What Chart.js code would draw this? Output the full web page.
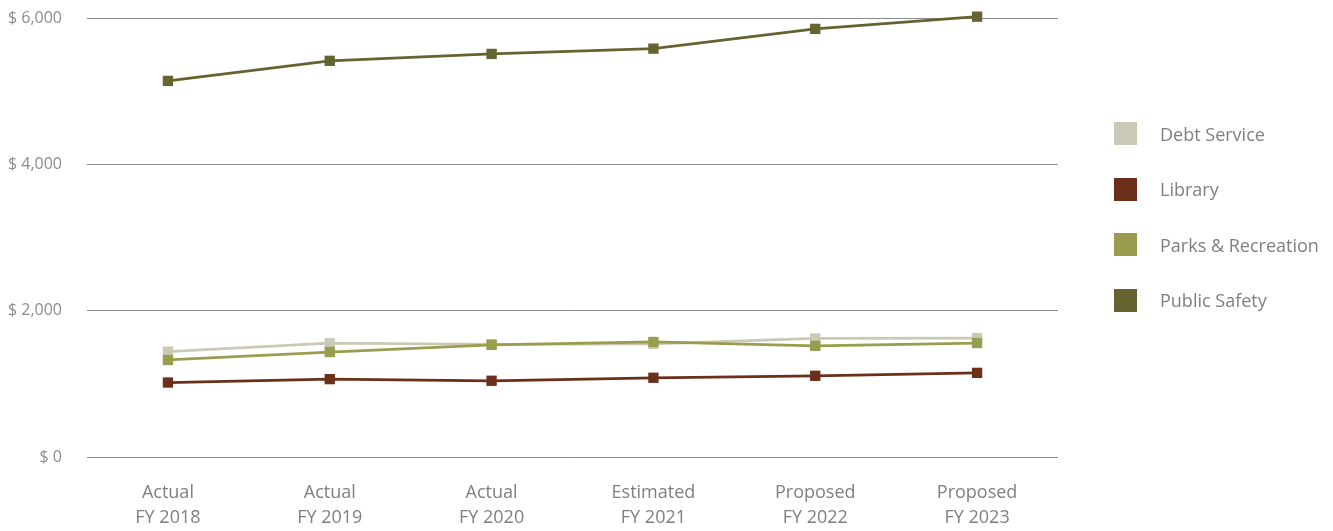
<!DOCTYPE html>
<html>
<head>
<meta charset="utf-8">
<script src="https://cdn.jsdelivr.net/npm/chart.js@4"></script>
<style>
  html, body { margin: 0; padding: 0; background: #ffffff; }
  #wrap { position: relative; width: 1333px; height: 531px; }
  #c { position: absolute; left: 0; top: 0; }
  #legend { position: absolute; left: 1114px; top: 122px; font-family: "Open Sans", sans-serif; font-size: 18px; color: #7f7f7f; }
  .item { display: flex; align-items: center; height: 23px; margin-bottom: 32.5px; white-space: nowrap; }
  .box { width: 23px; height: 23px; margin-right: 23px; flex: none; }
</style>
</head>
<body>
<div id="wrap">
  <canvas id="c" width="1333" height="531"></canvas>
  <div id="legend"></div>
</div>
<script>
const categories = [["Actual", "FY 2018"], ["Actual", "FY 2019"], ["Actual", "FY 2020"], ["Estimated", "FY 2021"], ["Proposed", "FY 2022"], ["Proposed", "FY 2023"]];
const seriesNames = ["Debt Service", "Library", "Parks & Recreation", "Public Safety"];
const debtService = [1440, 1555, 1540, 1545, 1620, 1625];
const library = [1018, 1064, 1042, 1083, 1110, 1150];
const parksRecreation = [1326, 1435, 1533, 1572, 1518, 1558];
const publicSafety = [5140, 5415, 5509, 5581, 5851, 6018];
const seriesColors = ["#cbc8b6", "#6b2f1a", "#989e4e", "#656330"];
const yTicks = [0, 2000, 4000, 6000];

const seriesValues = [debtService, library, parksRecreation, publicSafety];
const datasets = seriesNames.map((name, i) => ({
  label: name,
  data: seriesValues[i],
  borderColor: seriesColors[i],
  backgroundColor: seriesColors[i],
  borderWidth: 2.75,
  pointStyle: 'rect',
  pointRadius: 7.3,
  pointHoverRadius: 7.3,
  pointBorderWidth: 0,
  tension: 0,
  clip: false,
  order: seriesNames.length - i
}));

const chart = new Chart(document.getElementById('c'), {
  type: 'line',
  data: { labels: categories, datasets: datasets },
  options: {
    responsive: false,
    animation: false,
    layout: { padding: { left: 7, right: 275, top: 18, bottom: 0 } },
    plugins: { legend: { display: false }, tooltip: { enabled: false } },
    scales: {
      x: {
        offset: true,
        grid: { display: false, drawTicks: false },
        border: { display: false },
        ticks: { color: '#7f7f7f', font: { family: 'Open Sans', size: 18, lineHeight: '25px' }, padding: 23, maxRotation: 0, autoSkip: false },
        afterFit: (axis) => { axis.height = 74; axis.paddingTop = 0; axis.paddingBottom = 0; axis.paddingLeft = 0; axis.paddingRight = 0; }
      },
      y: {
        min: 0, max: 6000,
        afterBuildTicks: (axis) => { axis.ticks = yTicks.map(v => ({ value: v })); },
        grid: { color: '#8c8c8c', lineWidth: 1, drawTicks: false },
        border: { display: false },
        ticks: {
          color: '#8c8c8c', font: { family: 'Open Sans', size: 16 }, padding: 25,
          callback: (v) => '$ ' + Number(v).toLocaleString('en-US')
        },
        afterFit: (axis) => { axis.width = 80; axis.paddingTop = 0; axis.paddingBottom = 0; }
      }
    }
  }
});

const legendEl = document.getElementById('legend');
chart.data.datasets.forEach(ds => {
  const item = document.createElement('div');
  item.className = 'item';
  const box = document.createElement('span');
  box.className = 'box';
  box.style.background = ds.backgroundColor;
  const txt = document.createElement('span');
  txt.textContent = ds.label;
  item.appendChild(box);
  item.appendChild(txt);
  legendEl.appendChild(item);
});
</script>
</body>
</html>
